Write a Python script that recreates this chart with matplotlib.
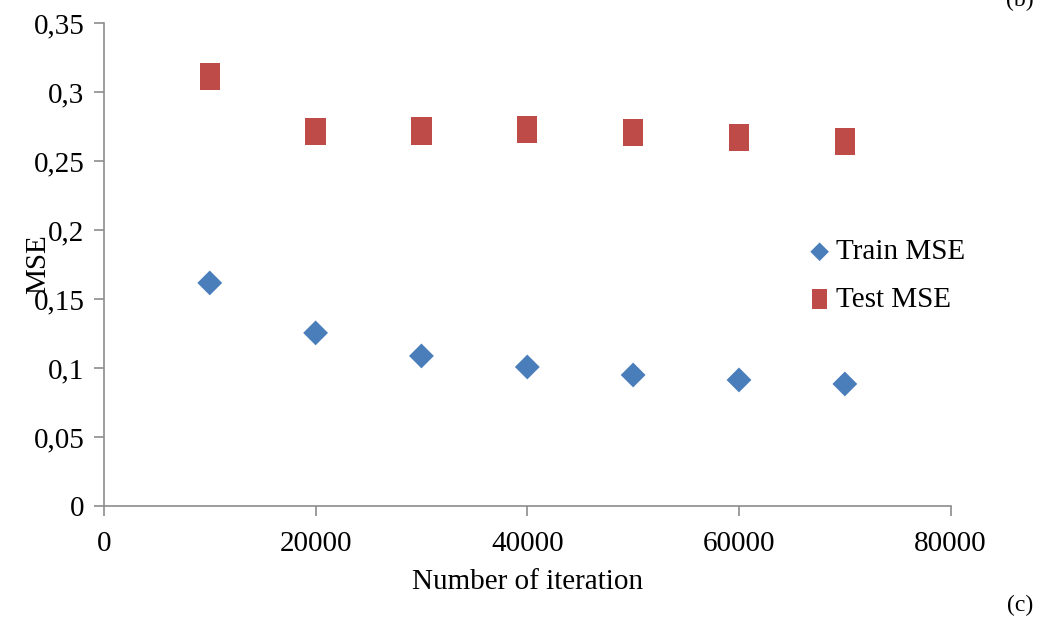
import matplotlib.pyplot as plt
import numpy as np
from matplotlib.path import Path

# data
iterations = [10000, 20000, 30000, 40000, 50000, 60000, 70000]
train_mse = [0.1616, 0.1254, 0.1087, 0.1007, 0.0949, 0.0913, 0.0884]
test_mse = [0.3109, 0.2710, 0.2717, 0.2730, 0.2703, 0.2670, 0.2638]

yticks = [0, 0.05, 0.1, 0.15, 0.2, 0.25, 0.3, 0.35]
ytick_labels = ['0', '0,05', '0,1', '0,15', '0,2', '0,25', '0,3', '0,35']
xticks = [0, 20000, 40000, 60000, 80000]

plt.rcParams['font.family'] = ['Liberation Serif', 'DejaVu Serif']

blue = '#4a7ebb'
red = '#be4b48'
grey = '#8c8c8c'

# slightly tall rectangle, like the stretched excel squares
rect = Path([(-0.75, -1), (0.75, -1), (0.75, 1), (-0.75, 1), (-0.75, -1)],
            [Path.MOVETO, Path.LINETO, Path.LINETO, Path.LINETO, Path.CLOSEPOLY])

fig = plt.figure(figsize=(10.39, 6.19), dpi=100)
ax = fig.add_axes([0.1, 0.1826, 0.815, 0.7804])

ax.scatter(iterations, train_mse, marker='D', s=160, color=blue, edgecolor='none',
           label='Train MSE', zorder=3)
ax.scatter(iterations, test_mse, marker=rect, s=380, color=red, edgecolor='none',
           label='Test MSE', zorder=3)

ax.set_xlim(0, 80000)
ax.set_ylim(0, 0.35)
ax.set_xticks(xticks)
ax.set_xticklabels([str(x) for x in xticks])
ax.set_yticks(yticks)
ax.set_yticklabels(ytick_labels)

for s in ['top', 'right']:
    ax.spines[s].set_visible(False)
for s in ['left', 'bottom']:
    ax.spines[s].set_color(grey)
    ax.spines[s].set_linewidth(1.2)
ax.tick_params(axis='both', colors=grey, labelcolor='black', labelsize=21,
               length=7, width=1.2, direction='out')
ax.tick_params(axis='x', pad=11)
ax.tick_params(axis='y', pad=7)

ax.set_xlabel('Number of iteration', fontsize=21, labelpad=9)
ax.text(-0.078, 0.5, 'MSE', transform=ax.transAxes, rotation=90,
        fontsize=21, ha='center', va='center')

leg = ax.legend(loc='upper left', bbox_to_anchor=(0.797, 0.607), frameon=False,
                fontsize=21, handletextpad=0.05, labelspacing=0.72,
                handlelength=1.0, markerscale=0.75)

fig.text(0.982, 0.022, '(c)', fontsize=17, ha='center', va='center')
fig.text(0.982, 1.0, '(b)', fontsize=17, ha='center', va='center')

fig.savefig('out.png', dpi=100)
